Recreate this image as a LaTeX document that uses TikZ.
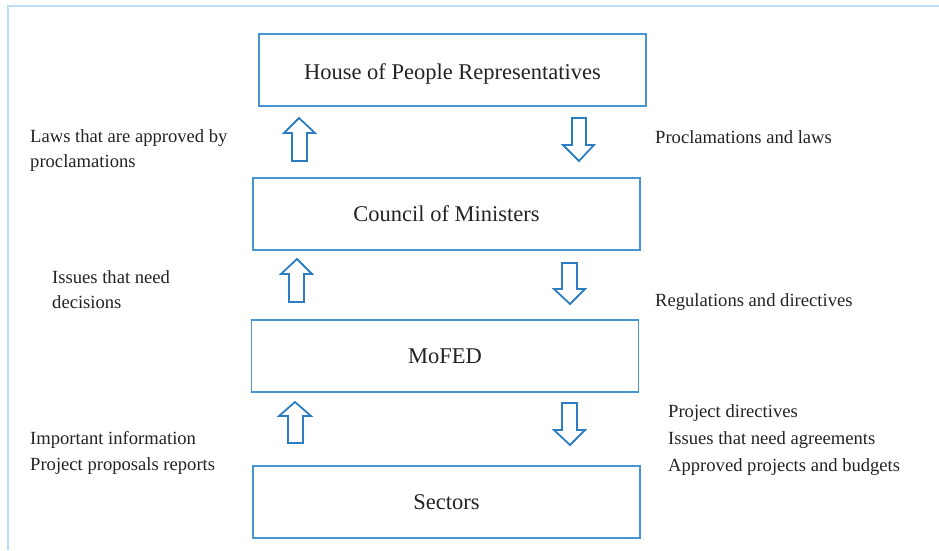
\documentclass[tikz,border=0pt]{standalone}
\usepackage{fontspec}
\setmainfont{Liberation Serif}
\definecolor{boxblue}{RGB}{70,150,212}
\definecolor{arrblue}{RGB}{45,125,195}
\definecolor{frameblue}{RGB}{190,222,246}
\definecolor{txt}{RGB}{35,35,35}
\tikzset{
  orgbox/.style={draw=boxblue,line width=1.4pt,minimum width=387pt,minimum height=72pt,inner sep=0pt,
    text height=15pt,text depth=0pt,text=txt,font=\fontsize{22.5}{26}\selectfont},
  sidelabel/.style={anchor=base west,inner sep=0pt,text=txt,font=\fontsize{18.6}{24}\selectfont},
  blockarrow/.style={draw=arrblue,line width=1.8pt,line join=miter,fill=white}
}
\begin{document}
\begin{tikzpicture}[x=1pt,y=-1pt]
\useasboundingbox (0,0) rectangle (939,550);
% frame
\draw[frameblue,line width=2pt] (8,550) -- (8,6) -- (939,6);
% boxes
\node[orgbox,text height=19pt] (house) at (452.5,70) {House of People Representatives};
\node[orgbox] (council) at (446.5,214) {Council of Ministers};
\node[orgbox] (mofed) at (445,356) {MoFED};
\node[orgbox] (sectors) at (446.5,502) {Sectors};
% block arrows row 1
\draw[blockarrow] (299,118) -- (315,133) -- (307,133) -- (307,161) -- (292,161) -- (292,133) -- (284,133) -- cycle;
\draw[blockarrow] (579,161) -- (594,145) -- (586,145) -- (586,118) -- (572,118) -- (572,145) -- (563,145) -- cycle;
% row 2
\draw[blockarrow] (297,259) -- (312,274) -- (304,274) -- (304,302) -- (289,302) -- (289,274) -- (281,274) -- cycle;
\draw[blockarrow] (570,304) -- (585,289) -- (577,289) -- (577,263) -- (562,263) -- (562,289) -- (554,289) -- cycle;
% row 3
\draw[blockarrow] (295,402) -- (311,416) -- (303,416) -- (303,443) -- (288,443) -- (288,416) -- (279,416) -- cycle;
\draw[blockarrow] (570,445) -- (585,430) -- (577,430) -- (577,403) -- (562,403) -- (562,430) -- (554,430) -- cycle;
% labels
\node[sidelabel] (l1a) at (30,142) {Laws that are approved by};
\node[sidelabel] (l1b) at (30,167) {proclamations};
\node[sidelabel] (r1) at (655,143) {Proclamations and laws};
\node[sidelabel] (l2a) at (52,283) {Issues that need};
\node[sidelabel] (l2b) at (52,308) {decisions};
\node[sidelabel] (r2) at (655,306) {Regulations and directives};
\node[sidelabel] (l3a) at (30,444) {Important information};
\node[sidelabel] (l3b) at (30,470) {Project proposals reports};
\node[sidelabel] (r3a) at (668,417) {Project directives};
\node[sidelabel] (r3b) at (668,444) {Issues that need agreements};
\node[sidelabel] (r3c) at (668,471) {Approved projects and budgets};
\end{tikzpicture}
\end{document}
